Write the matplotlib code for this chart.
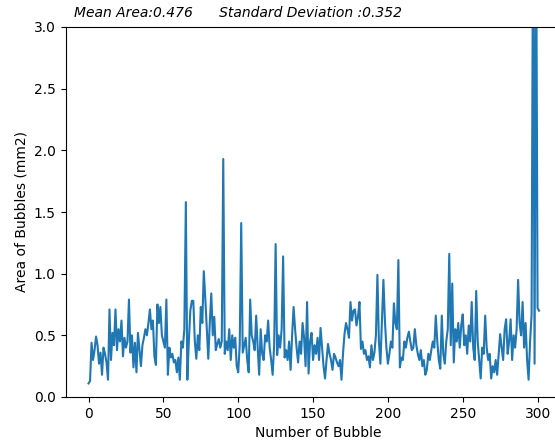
import matplotlib
matplotlib.use("Agg")
import matplotlib.pyplot as plt
import numpy as np

# bubble areas, index 0..301
areas = [
    0.11, 0.13, 0.44, 0.30, 0.38, 0.49, 0.42, 0.27, 0.36, 0.18,
    0.40, 0.35, 0.28, 0.14, 0.71, 0.30, 0.52, 0.42, 0.71, 0.38,
    0.55, 0.45, 0.62, 0.33, 0.48, 0.40, 0.45, 0.79, 0.36, 0.50,
    0.24, 0.44, 0.20, 0.52, 0.38, 0.25, 0.42, 0.48, 0.55, 0.50,
    0.60, 0.71, 0.55, 0.62, 0.33, 0.26, 0.75, 0.60, 0.73, 0.50,
    0.45, 0.40, 0.79, 0.18, 0.40, 0.32, 0.35, 0.28, 0.30, 0.20,
    0.32, 0.14, 0.45, 0.40, 0.55, 1.58, 0.14, 0.45, 0.70, 0.78,
    0.78, 0.45, 0.31, 0.50, 0.38, 0.73, 0.60, 1.02, 0.80, 0.55,
    0.31, 0.60, 0.84, 0.50, 0.65, 0.38, 0.43, 0.47, 0.40, 0.45,
    1.93, 0.35, 0.45, 0.38, 0.55, 0.30, 0.50, 0.40, 0.48, 0.25,
    0.20, 0.42, 1.41, 0.36, 0.42, 0.48, 0.30, 0.20, 0.79, 0.50,
    0.45, 0.38, 0.66, 0.40, 0.18, 0.55, 0.35, 0.30, 0.50, 0.45,
    0.62, 0.40, 0.30, 0.18, 0.42, 1.24, 0.34, 0.50, 0.40, 0.55,
    1.14, 0.32, 0.38, 0.30, 0.45, 0.22, 0.50, 0.73, 0.55, 0.40,
    0.28, 0.45, 0.35, 0.60, 0.48, 0.25, 0.77, 0.19, 0.45, 0.52,
    0.30, 0.42, 0.35, 0.48, 0.30, 0.56, 0.40, 0.25, 0.15, 0.30,
    0.43, 0.35, 0.30, 0.22, 0.35, 0.32, 0.28, 0.25, 0.30, 0.14,
    0.35, 0.51, 0.60, 0.55, 0.48, 0.77, 0.62, 0.70, 0.71, 0.58,
    0.65, 0.77, 0.39, 0.45, 0.35, 0.38, 0.30, 0.33, 0.24, 0.42,
    0.30, 0.36, 0.50, 0.99, 0.45, 0.27, 0.60, 0.95, 0.62, 0.40,
    0.27, 0.35, 0.45, 0.40, 0.76, 0.60, 0.55, 1.11, 0.24, 0.32,
    0.30, 0.45, 0.40, 0.48, 0.53, 0.45, 0.38, 0.40, 0.55, 0.42,
    0.35, 0.30, 0.38, 0.25, 0.30, 0.18, 0.22, 0.35, 0.30, 0.38,
    0.45, 0.40, 0.66, 0.45, 0.30, 0.23, 0.66, 0.35, 0.27, 0.45,
    0.55, 1.16, 0.42, 0.92, 0.28, 0.55, 0.45, 0.60, 0.40, 0.58,
    0.67, 0.42, 0.50, 0.35, 0.58, 0.45, 0.77, 0.40, 0.30, 0.86,
    0.45, 0.30, 0.15, 0.40, 0.35, 0.66, 0.40, 0.30, 0.35, 0.15,
    0.25, 0.20, 0.30, 0.18, 0.35, 0.51, 0.40, 0.30, 0.55, 0.63,
    0.35, 0.45, 0.63, 0.30, 0.50, 0.40, 0.55, 0.95, 0.60, 0.50,
    0.77, 0.40, 0.60, 0.30, 0.14, 0.45, 0.67, 4.00, 0.27, 4.00,
    0.72, 0.70,
]
bubble_no = np.arange(len(areas))

mean_txt = "0.476"
std_txt = "0.352"

fig = plt.figure(figsize=(5.55, 4.43), dpi=100)
# axes run past the right edge, like the cropped original
ax = fig.add_axes([65.5/555, 46/443, 505/555, 370/443])
ax.plot(bubble_no, areas, color="#1f77b4", linewidth=1.5)
ax.set_xlim(-15.4, 322)
ax.set_ylim(0, 3.0)
ax.set_xticks([0, 50, 100, 150, 200, 250, 300])
ax.set_yticks([0.0, 0.5, 1.0, 1.5, 2.0, 2.5, 3.0])
ax.set_xlabel("Number of Bubble")
ax.set_ylabel("Area of Bubbles (mm2)")

fig.text(74/555, 1 - 13/443,
         "Mean Area:" + mean_txt + "      Standard Deviation :" + std_txt,
         style="italic", fontsize=10, va="center", ha="left")

fig.savefig("out.png", dpi=100)
